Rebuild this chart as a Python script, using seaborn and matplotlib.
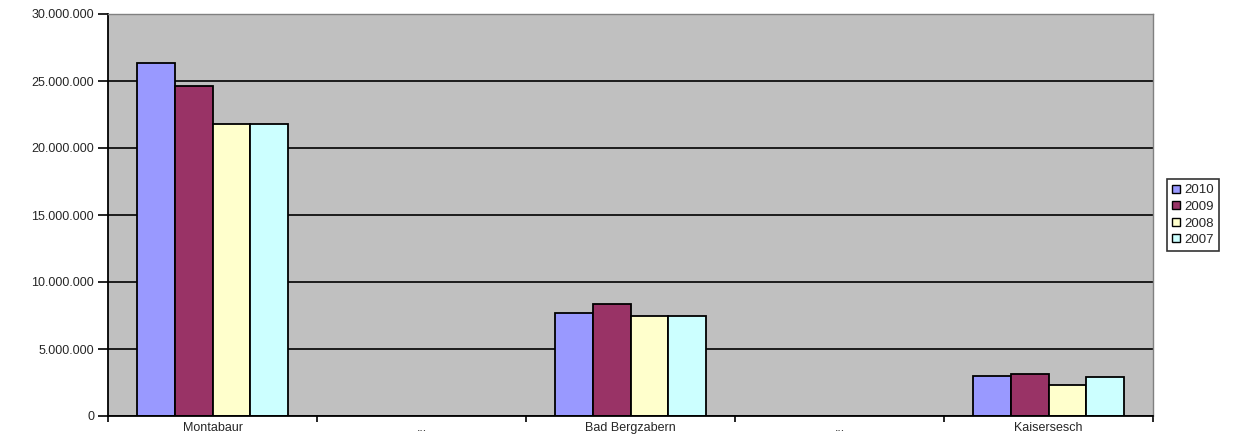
import pandas as pd
import matplotlib.pyplot as plt
import matplotlib.ticker as mticker
import seaborn as sns

# Gemeinden (the "..." columns are empty placeholders)
category_keys = ['Montabaur', 'gap1', 'Bad Bergzabern', 'gap2', 'Kaisersesch']
tick_labels = ['Montabaur', '...', 'Bad Bergzabern', '...', 'Kaisersesch']
years = ['2010', '2009', '2008', '2007']

# values per year, in the order of category_keys
values_2010 = [26350000, None, 7660000, None, 3000000]
values_2009 = [24600000, None, 8380000, None, 3100000]
values_2008 = [21800000, None, 7490000, None, 2340000]
values_2007 = [21800000, None, 7440000, None, 2890000]

colors = ['#9999FF', '#993366', '#FFFFCC', '#CCFFFF']

rows = []
for year, vals in zip(years, [values_2010, values_2009, values_2008, values_2007]):
    for key, v in zip(category_keys, vals):
        rows.append({'Gemeinde': key, 'Jahr': year, 'Wert': v})
df = pd.DataFrame(rows)

sns.set_style('white')
plt.rcParams['font.family'] = ['Liberation Sans', 'DejaVu Sans']

fig = plt.figure(figsize=(12.35, 4.41), dpi=100)
ax = fig.add_axes([108 / 1235, 25 / 441, 1045 / 1235, 402 / 441])

sns.barplot(data=df, x='Gemeinde', y='Wert', hue='Jahr', order=category_keys,
            hue_order=years, palette=colors, width=0.727, gap=0,
            edgecolor='black', linewidth=1.3, saturation=1, ax=ax,
            legend=True)

ax.set_facecolor('#C0C0C0')
ax.set_ylim(0, 30000000)
ax.set_xlim(-0.5, 4.5)
ax.yaxis.set_major_locator(mticker.MultipleLocator(5000000))
ax.yaxis.set_major_formatter(mticker.FuncFormatter(lambda v, p: f'{int(v):,}'.replace(',', '.')))
ax.grid(axis='y', color='black', linewidth=1.2)
ax.set_axisbelow(True)

ax.set_xticks(range(len(category_keys)))
ax.set_xticklabels(tick_labels, fontsize=9)
ax.tick_params(axis='x', which='major', bottom=True, length=0, pad=4)
ax.set_xticks([i + 0.5 for i in range(-1, 5)], minor=True)
ax.tick_params(axis='x', which='minor', bottom=True, length=4, width=1.2,
               color='black', direction='out')
ax.tick_params(axis='y', left=True, length=7, width=1.2, color='black',
               direction='out', labelsize=9, pad=3)
ax.set_xlabel('')
ax.set_ylabel('')

for side in ['left', 'bottom']:
    ax.spines[side].set_color('black')
    ax.spines[side].set_linewidth(1.3)
for side in ['top', 'right']:
    ax.spines[side].set_color('#808080')
    ax.spines[side].set_linewidth(1.0)

leg = ax.legend(loc='upper left', bbox_to_anchor=(1167 / 1235, 1 - 179 / 441),
                bbox_transform=fig.transFigure, fontsize=9.5, frameon=True,
                fancybox=False, edgecolor='black', handlelength=0.55,
                handleheight=0.55, handletextpad=0.35, labelspacing=0.35,
                borderpad=0.4, borderaxespad=0)
leg.get_frame().set_linewidth(1.2)
for h in leg.legend_handles:
    h.set_edgecolor('black')
    h.set_linewidth(1.0)

fig.savefig('out.png', dpi=100, facecolor='white')
